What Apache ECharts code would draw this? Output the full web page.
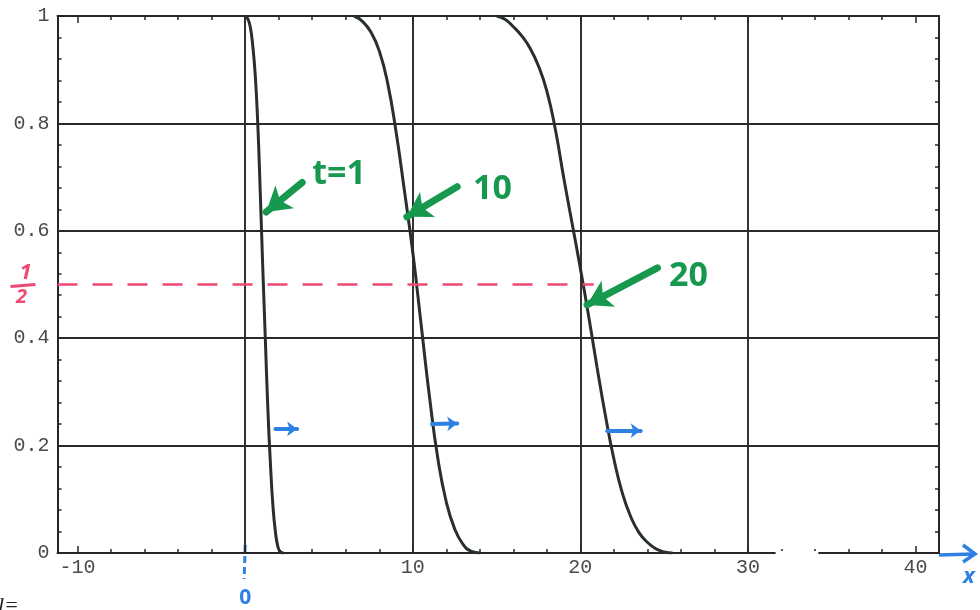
<!DOCTYPE html>
<html><head><meta charset="utf-8">
<script src="https://cdn.jsdelivr.net/npm/echarts@6/dist/echarts.min.js"></script>
<style>html,body{margin:0;padding:0;background:#fff}#c{width:980px;height:610px}</style>
</head><body><div id="c"></div>
<script>
// ---------- axes ----------
const X_MIN = -11.2, X_MAX = 41.4;
const Y_MIN = 0, Y_MAX = 1;
const xMajorTicks = [-10, 0, 10, 20, 30, 40];
const xLabelTicks = [-10, 10, 20, 30, 40];
const xMinorTicks = [-8, -6, -4, -2, 2, 4, 6, 8, 12, 14, 16, 18, 22, 24, 26, 28, 32, 34, 36, 38];
const yMajorTicks = [0, 0.2, 0.4, 0.6, 0.8, 1];
const yLabelTicks = [0, 0.2, 0.4, 0.6, 0.8, 1];
const yMinorTicks = [0.04, 0.08, 0.12, 0.16, 0.24, 0.28, 0.32, 0.36, 0.44, 0.48, 0.52, 0.56, 0.64, 0.68, 0.72, 0.76, 0.84, 0.88, 0.92, 0.96];
const xGridLines = [0, 10, 20, 30];
const yGridLines = [0.2, 0.4, 0.6, 0.8];

// ---------- curves ----------
const t1X  = [0, 0.15, 0.3, 0.45, 0.6, 0.75, 0.9, 1.05, 1.2, 1.35, 1.5, 1.65, 1.8, 1.95, 2.1, 2.3];
const t1Y  = [1, 0.995, 0.98, 0.945, 0.89, 0.8, 0.67, 0.53, 0.4, 0.27, 0.17, 0.09, 0.04, 0.012, 0.002, 0];
const t10X = [6.5, 7, 7.5, 8, 8.5, 9, 9.5, 10, 10.5, 11, 11.5, 12, 12.5, 13, 13.5, 14];
const t10Y = [1, 0.99, 0.97, 0.935, 0.875, 0.785, 0.675, 0.56, 0.425, 0.29, 0.175, 0.095, 0.045, 0.016, 0.003, 0];
const t20X = [15, 15.5, 16, 16.5, 17, 17.5, 18, 18.5, 19, 19.5, 20, 20.5, 21, 21.5, 22, 22.5, 23, 23.5, 24, 24.5, 25, 25.5];
const t20Y = [1, 0.994, 0.98, 0.963, 0.94, 0.907, 0.86, 0.79, 0.7, 0.615, 0.53, 0.44, 0.345, 0.255, 0.175, 0.112, 0.068, 0.038, 0.02, 0.008, 0.002, 0];

// ---------- annotations (data coords) ----------
const halfLevel = 0.5;
const halfLineEnd = 20.8;
const greenLabels = ['t=1', '10', '20'];
const greenTails = [[3.4, 0.69], [12.65, 0.682], [24.6, 0.531]];
const greenHeads = [[1.25, 0.635], [9.65, 0.626], [20.4, 0.462]];
const greenTextPos = [[5.6, 0.705], [14.75, 0.678], [26.45, 0.516]];
const blueArrowFrom = [[1.8, 0.231], [11.15, 0.24], [21.6, 0.228]];
const blueArrowTo = [[3.1, 0.231], [12.65, 0.241], [23.6, 0.228]];
const axisGap = [31.65, 34.2];

const AX = '#262626';
const LBL = {fontFamily: 'Liberation Mono', fontSize: 20, color: '#4a4a4a'};
const GREEN = '#16984f', BLUE = '#2f80e4', RED = '#ee4a72';

function zip(a, b) { return a.map((v, i) => [v, b[i]]); }

function xAxisDef(grid, pos, ticks, len, labels) {
  return {
    type: 'value', gridIndex: grid, position: pos, min: X_MIN, max: X_MAX,
    axisLine: {show: grid === 0, onZero: false, lineStyle: {color: AX, width: 2}},
    axisTick: {show: true, inside: true, length: len, customValues: ticks, lineStyle: {color: AX, width: 1.5}},
    axisLabel: labels ? Object.assign({show: true, customValues: labels, margin: 5}, LBL) : {show: false},
    splitLine: {show: false}
  };
}
function yAxisDef(grid, pos, ticks, len, labels) {
  return {
    type: 'value', gridIndex: grid, position: pos, min: Y_MIN, max: Y_MAX,
    axisLine: {show: grid === 0, onZero: false, lineStyle: {color: AX, width: 2}},
    axisTick: {show: true, inside: true, length: len, customValues: ticks, lineStyle: {color: AX, width: 1.5}},
    axisLabel: labels ? Object.assign({show: true, customValues: labels, margin: 8}, LBL) : {show: false},
    splitLine: {show: false}
  };
}

const gridRect = {left: 57.5, right: 41, top: 16, bottom: 57};

const gridLineData = []
  .concat(xGridLines.map(v => ({xAxis: v})))
  .concat(yGridLines.map(v => ({yAxis: v})));

const annotLines = [
  [{coord: [X_MIN, halfLevel], symbol: 'none', lineStyle: {color: RED, width: 2.5, type: [20, 15]}},
   {coord: [halfLineEnd, halfLevel], symbol: 'none'}],
  [{coord: [axisGap[0], 0], symbol: 'none', lineStyle: {color: '#ffffff', width: 5, type: 'solid'}},
   {coord: [axisGap[1], 0], symbol: 'none'}]
];
greenTails.forEach((t, i) => {
  annotLines.push([
    {coord: t, symbol: 'none', lineStyle: {color: GREEN, width: 7, type: 'solid', cap: 'round'}},
    {coord: greenHeads[i], symbol: 'arrow', symbolSize: [22, 24]}
  ]);
});
blueArrowFrom.forEach((f, i) => {
  annotLines.push([
    {coord: f, symbol: 'none', lineStyle: {color: BLUE, width: 4, type: 'solid', cap: 'round'}},
    {coord: blueArrowTo[i], symbol: 'arrow', symbolSize: [11, 10]}
  ]);
});

function curve(name, xs, ys) {
  return {
    name: name, type: 'line', xAxisIndex: 0, yAxisIndex: 0, data: zip(xs, ys),
    showSymbol: false, symbol: 'none', smooth: 0.5,
    lineStyle: {color: '#27302c', width: 3}, itemStyle: {color: '#27302c'}, z: 3, silent: true
  };
}

const chart = echarts.init(document.getElementById('c'), null, {renderer: 'canvas'});
chart.setOption({
  animation: false,
  backgroundColor: '#ffffff',
  grid: [Object.assign({}, gridRect), Object.assign({}, gridRect)],
  xAxis: [
    xAxisDef(0, 'bottom', xMajorTicks, 7, xLabelTicks),
    xAxisDef(0, 'top', xMajorTicks, 7, null),
    xAxisDef(1, 'bottom', xMinorTicks, 4, null),
    xAxisDef(1, 'top', xMinorTicks, 4, null)
  ],
  yAxis: [
    yAxisDef(0, 'left', yMajorTicks, 7, yLabelTicks),
    yAxisDef(0, 'right', yMajorTicks, 7, null),
    yAxisDef(1, 'left', yMinorTicks, 4, null),
    yAxisDef(1, 'right', yMinorTicks, 4, null)
  ],
  series: [
    {
      name: 'grid', type: 'line', xAxisIndex: 0, yAxisIndex: 0, data: [[0, 1]],
      symbol: 'none', showSymbol: false, lineStyle: {width: 0}, silent: true, z: 1,
      markLine: {
        silent: true, symbol: 'none', label: {show: false}, animation: false,
        lineStyle: {color: '#2a2a2a', width: 1.9, type: 'solid'},
        data: gridLineData
      }
    },
    curve('t=1', t1X, t1Y),
    curve('t=10', t10X, t10Y),
    curve('t=20', t20X, t20Y),
    {
      name: 'notes', type: 'line', xAxisIndex: 0, yAxisIndex: 0, data: [[0, 1]],
      symbol: 'none', showSymbol: false, lineStyle: {width: 0}, silent: true, z: 5,
      markLine: {silent: true, label: {show: false}, animation: false, data: annotLines},
      markPoint: {
        silent: true, animation: false, symbol: 'circle', symbolSize: 1,
        itemStyle: {color: 'rgba(0,0,0,0)'},
        label: {show: true, position: 'inside', color: GREEN, fontFamily: 'Open Sans',
                fontWeight: 'bold', fontSize: 34, formatter: p => p.name},
        data: greenLabels.map((t, i) => ({name: t, coord: greenTextPos[i]}))
      }
    }
  ]
});

// outside-the-frame handwritten marks, positioned through the axes
const p0 = chart.convertToPixel({gridIndex: 0}, [0, 0]);
const pHalf = chart.convertToPixel({gridIndex: 0}, [X_MIN, halfLevel]);
const pEnd = chart.convertToPixel({gridIndex: 0}, [X_MAX, 0]);
chart.setOption({
  graphic: [
    {type: 'text', x: pHalf[0] - 32, y: pHalf[1] - 12, style: {text: '1', fill: RED, font: 'italic bold 22px "Noto Sans"', textAlign: 'center', textVerticalAlign: 'middle'}},
    {type: 'line', shape: {x1: pHalf[0] - 47, y1: pHalf[1] + 2, x2: pHalf[0] - 22, y2: pHalf[1]}, style: {stroke: RED, lineWidth: 3}},
    {type: 'text', x: pHalf[0] - 36, y: pHalf[1] + 13, style: {text: '2', fill: RED, font: 'italic bold 20px "Noto Sans"', textAlign: 'center', textVerticalAlign: 'middle'}},
    {type: 'line', shape: {x1: p0[0], y1: p0[1] - 8, x2: p0[0] - 1, y2: p0[1] + 26}, style: {stroke: BLUE, lineWidth: 3, lineDash: [7, 4]}},
    {type: 'text', x: p0[0], y: p0[1] + 45, style: {text: '0', fill: BLUE, font: 'bold 21px "Noto Sans"', textAlign: 'center', textVerticalAlign: 'middle'}},
    {type: 'line', shape: {x1: pEnd[0], y1: pEnd[1] + 2, x2: pEnd[0] + 34, y2: pEnd[1] + 1}, style: {stroke: BLUE, lineWidth: 3.5}},
    {type: 'polyline', shape: {points: [[pEnd[0] + 24, pEnd[1] - 8], [pEnd[0] + 36, pEnd[1] + 1], [pEnd[0] + 24, pEnd[1] + 9]]}, style: {stroke: BLUE, lineWidth: 3.5, fill: null}},
    {type: 'text', x: pEnd[0] + 24, y: pEnd[1] + 24, style: {text: 'x', fill: BLUE, font: 'italic bold 22px "Noto Sans"', textAlign: 'left', textVerticalAlign: 'middle'}},
    {type: 'text', x: -2, y: 606, style: {text: 'l=', fill: '#222', font: 'italic 22px "Liberation Serif"', textAlign: 'left', textVerticalAlign: 'middle'}}
  ]
});
</script>
</body></html>
